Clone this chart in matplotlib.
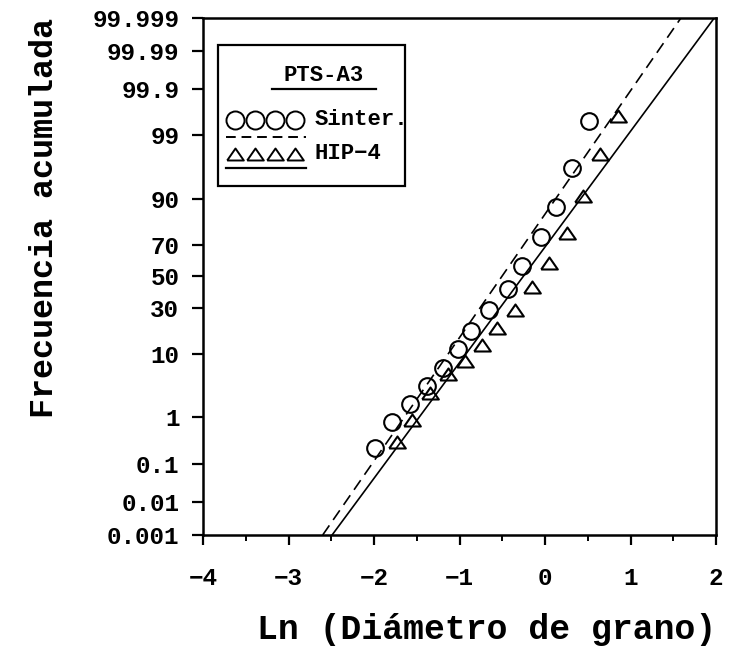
import math
import numpy as np
import matplotlib
matplotlib.use("Agg")
import matplotlib.pyplot as plt
from matplotlib.patches import Rectangle

plt.rcParams['font.family'] = ['Liberation Mono', 'DejaVu Sans Mono']
plt.rcParams['font.weight'] = 'bold'

# Distribucion de tamanos de grano, PTS-A3
ln_d_sinter = [-1.99, -1.79, -1.58, -1.38, -1.19, -1.02, -0.86, -0.66,
               -0.43, -0.27, -0.05, 0.13, 0.31, 0.52]
frec_sinter = [0.23, 0.82, 1.8, 3.6, 6.5, 11.5, 18.4, 29.0,
               42.0, 57.0, 74.0, 87.5, 96.3, 99.49]

ln_d_hip = [-1.73, -1.55, -1.35, -1.14, -0.94, -0.74, -0.56, -0.35,
            -0.15, 0.05, 0.26, 0.45, 0.64, 0.85]
frec_hip = [0.32, 0.9, 2.7, 5.3, 8.1, 12.9, 19.8, 29.0,
            42.8, 58.6, 76.3, 90.9, 97.8, 99.6]

# rectas de ajuste (extremos en el rango del eje)
ajuste_sinter_x = [-2.60, 1.59]
ajuste_hip_x = [-2.49, 1.98]
ajuste_y = [0.001, 99.999]

y_ticks = [0.001, 0.01, 0.1, 1, 10, 30, 50, 70, 90, 99, 99.9, 99.99, 99.999]
y_labels = ['0.001', '0.01', '0.1', '1', '10', '30', '50', '70', '90',
            '99', '99.9', '99.99', '99.999']
x_ticks = [-4, -3, -2, -1, 0, 1, 2]
x_labels = ['\u22124', '\u22123', '\u22122', '\u22121', '0', '1', '2']

# escala de probabilidad normal (porcentaje -> z)
_erf = np.vectorize(math.erf)
_zg = np.linspace(-6, 6, 24001)
_pg = 50.0 * (1.0 + _erf(_zg / math.sqrt(2.0)))


def prob_forward(p):
    return np.interp(np.asarray(p, dtype=float), _pg, _zg)


def prob_inverse(z):
    return 50.0 * (1.0 + _erf(np.asarray(z, dtype=float) / math.sqrt(2.0)))


fig = plt.figure(figsize=(7.31, 6.57), dpi=100)
ax = fig.add_axes([0.2777, 0.1857, 0.7018, 0.787])
ax.set_yscale('function', functions=(prob_forward, prob_inverse))

ax.plot(ajuste_sinter_x, ajuste_y, color='black', lw=1.2, ls=(0, (7, 4)))
ax.plot(ajuste_hip_x, ajuste_y, color='black', lw=1.2)

tri = [(-1, -0.72), (1, -0.72), (0, 0.72), (-1, -0.72)]
ax.plot(ln_d_sinter, frec_sinter, ls='none', marker='o', ms=12,
        mfc='none', mec='black', mew=1.5)
ax.plot(ln_d_hip, frec_hip, ls='none', marker=tri, ms=12,
        mfc='none', mec='black', mew=1.5)

ax.set_xlim(-4, 2)
ax.set_ylim(0.001, 99.999)
ax.set_yticks(y_ticks)
ax.set_yticklabels(y_labels)
ax.set_xticks(x_ticks)
ax.set_xticklabels(x_labels)
ax.set_xticks(np.arange(-3.5, 2, 1.0), minor=True)
ax.yaxis.set_minor_locator(matplotlib.ticker.NullLocator())

ax.tick_params(axis='y', which='major', direction='out', length=8, width=1.6,
               pad=9, labelsize=17.5)
ax.tick_params(axis='x', which='major', direction='out', length=7, width=1.6,
               pad=16, labelsize=17.5)
ax.tick_params(axis='x', which='minor', direction='out', length=4, width=1.4)
for s in ax.spines.values():
    s.set_linewidth(1.8)

# leyenda dibujada a mano
ax.add_patch(Rectangle((0.029, 0.675), 0.365, 0.273, transform=ax.transAxes,
                       fill=False, lw=1.6, ec='black'))
ax.text(0.236, 0.888, 'PTS-A3', transform=ax.transAxes, ha='center',
        va='center', fontsize=16, fontweight='bold')
ax.plot([0.134, 0.338], [0.862, 0.862], transform=ax.transAxes,
        color='black', lw=1.6)
sym_x = [0.062, 0.101, 0.141, 0.180]
ax.plot(sym_x, [0.803] * 4, transform=ax.transAxes, ls='none', marker='o',
        ms=13, mfc='none', mec='black', mew=1.4)
ax.plot([0.045, 0.200], [0.770, 0.770], transform=ax.transAxes,
        color='black', lw=1.4, ls=(0, (5, 3)))
ax.plot(sym_x, [0.737] * 4, transform=ax.transAxes, ls='none', marker=tri,
        ms=12, mfc='none', mec='black', mew=1.4)
ax.plot([0.045, 0.200], [0.710, 0.710], transform=ax.transAxes,
        color='black', lw=1.6)
ax.text(0.218, 0.803, 'Sinter.', transform=ax.transAxes, ha='left',
        va='center', fontsize=16, fontweight='bold')
ax.text(0.218, 0.737, 'HIP\u22124', transform=ax.transAxes, ha='left',
        va='center', fontsize=16, fontweight='bold')

fig.text(45 / 731, 1 - 218 / 657, 'Frecuencia acumulada', rotation=90,
         ha='center', va='center', fontsize=24, fontweight='bold')
fig.text(487 / 731, 1 - 630 / 657, 'Ln (Diámetro de grano)',
         ha='center', va='center', fontsize=25, fontweight='bold')

fig.savefig('out.png', dpi=100)
